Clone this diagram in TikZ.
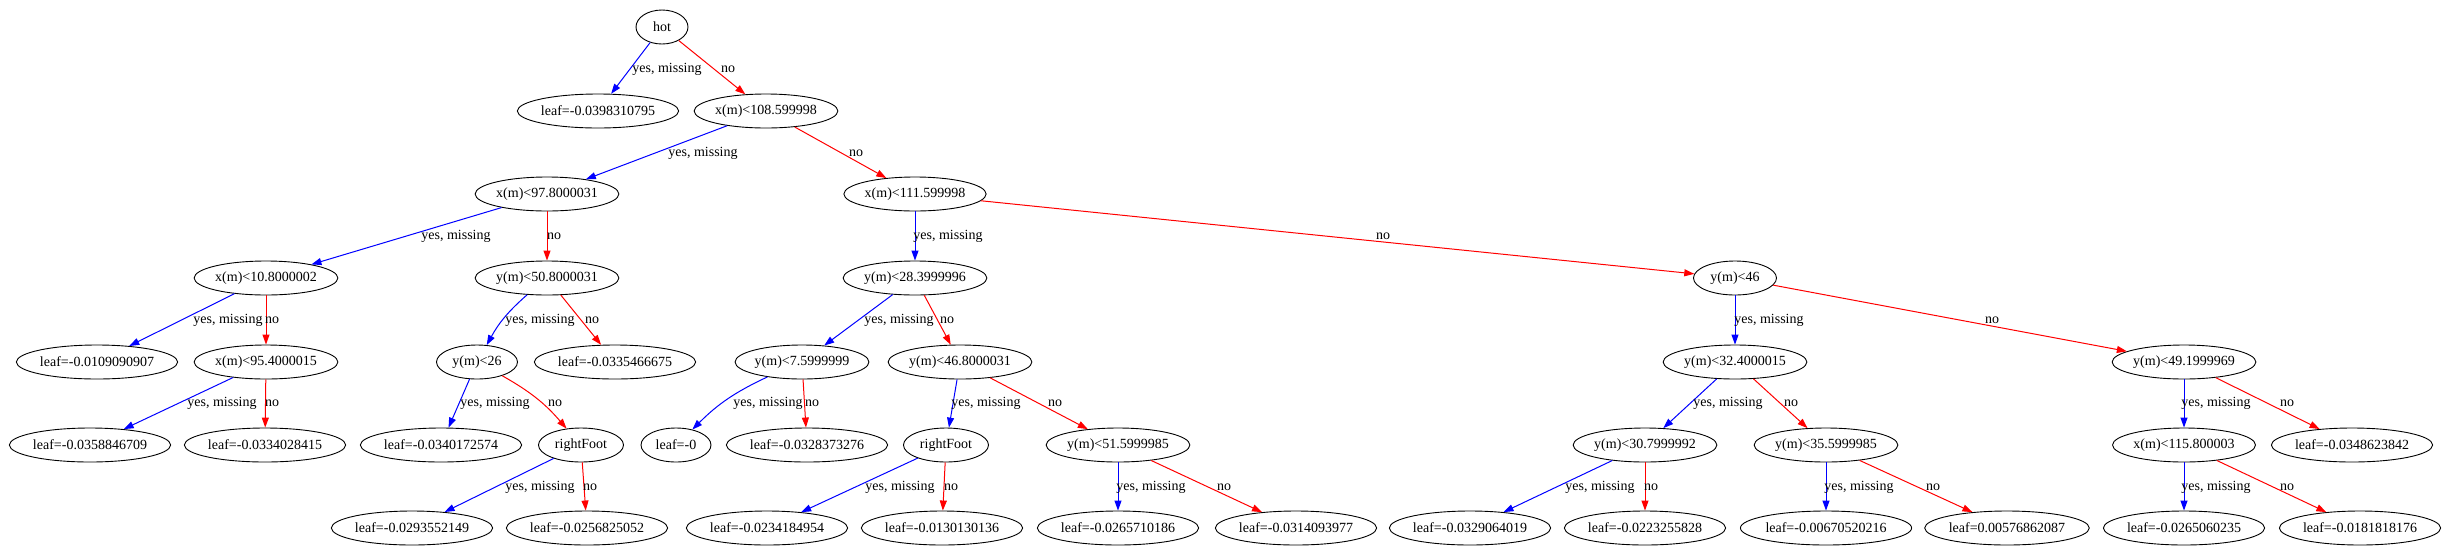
\documentclass[tikz,border=0pt]{standalone}
\usepackage{fontspec}
\setmainfont{Liberation Serif}
\usetikzlibrary{arrows.meta,shapes.geometric}
\begin{document}
\begin{tikzpicture}[x=1pt,y=-1pt,
  every node/.style={font=\fontsize{14}{16}\selectfont},
  tnode/.style={draw=black,line width=0.9pt,ellipse,inner xsep=0pt,inner ysep=0pt,minimum height=34pt},
  yesedge/.style={draw={rgb,255:red,0;green,0;blue,255},line width=1pt,-{Triangle[length=10pt,width=7pt]}},
  noedge/.style={draw={rgb,255:red,255;green,0;blue,0},line width=1pt,-{Triangle[length=10pt,width=7pt]}},
  lbl/.style={inner sep=0pt}]
\useasboundingbox (0,0) rectangle (2450,558);
% nodes
\node[tnode,minimum width=52pt] (n0) at (662,27) {hot};
\node[tnode] (n1) at (598,111) {leaf=-0.0398310795};
\node[tnode] (n2) at (766,111) {x(m)<108.599998};
\node[tnode] (n3) at (547,194) {x(m)<97.8000031};
\node[tnode] (n4) at (915,194) {x(m)<111.599998};
\node[tnode] (n5) at (266,278) {x(m)<10.8000002};
\node[tnode] (n6) at (547,278) {y(m)<50.8000031};
\node[tnode] (n7) at (915,278) {y(m)<28.3999996};
\node[tnode,minimum width=83pt] (n8) at (1735,278) {y(m)<46};
\node[tnode] (n9) at (97,362) {leaf=-0.0109090907};
\node[tnode] (n10) at (266,362) {x(m)<95.4000015};
\node[tnode,minimum width=81pt] (n11) at (477,362) {y(m)<26};
\node[tnode] (n12) at (615,362) {leaf=-0.0335466675};
\node[tnode] (n13) at (802,362) {y(m)<7.5999999};
\node[tnode] (n14) at (960,362) {y(m)<46.8000031};
\node[tnode] (n15) at (1735,362) {y(m)<32.4000015};
\node[tnode] (n16) at (2184,362) {y(m)<49.1999969};
\node[tnode] (n17) at (90,445) {leaf=-0.0358846709};
\node[tnode] (n18) at (265,445) {leaf=-0.0334028415};
\node[tnode] (n19) at (441,445) {leaf=-0.0340172574};
\node[tnode,minimum width=85pt] (n20) at (581,445) {rightFoot};
\node[tnode,minimum width=70pt] (n21) at (676,445) {leaf=-0};
\node[tnode] (n22) at (807,445) {leaf=-0.0328373276};
\node[tnode,minimum width=85pt] (n23) at (946,445) {rightFoot};
\node[tnode] (n24) at (1118,445) {y(m)<51.5999985};
\node[tnode] (n25) at (1645,445) {y(m)<30.7999992};
\node[tnode] (n26) at (1826,445) {y(m)<35.5999985};
\node[tnode] (n27) at (2184,445) {x(m)<115.800003};
\node[tnode] (n28) at (2352,445) {leaf=-0.0348623842};
\node[tnode] (n29) at (412,528) {leaf=-0.0293552149};
\node[tnode] (n30) at (587,528) {leaf=-0.0256825052};
\node[tnode] (n31) at (767,528) {leaf=-0.0234184954};
\node[tnode] (n32) at (942,528) {leaf=-0.0130130136};
\node[tnode] (n33) at (1118,528) {leaf=-0.0265710186};
\node[tnode] (n34) at (1296,528) {leaf=-0.0314093977};
\node[tnode] (n35) at (1470,528) {leaf=-0.0329064019};
\node[tnode] (n36) at (1645,528) {leaf=-0.0223255828};
\node[tnode] (n37) at (1826,528) {leaf=-0.00670520216};
\node[tnode] (n38) at (2007,528) {leaf=0.00576862087};
\node[tnode] (n39) at (2184,528) {leaf=-0.0265060235};
\node[tnode] (n40) at (2360,528) {leaf=-0.0181818176};
% edges
\draw[yesedge] (n0) -- (n1);
\draw[noedge] (n0) -- (n2);
\draw[yesedge] (n2) -- (n3);
\draw[noedge] (n2) -- (n4);
\draw[yesedge] (n3) -- (n5);
\draw[noedge] (n3) -- (n6);
\draw[yesedge] (n4) -- (n7);
\draw[noedge] (n4) -- (n8);
\draw[yesedge] (n5) -- (n9);
\draw[noedge] (n5) -- (n10);
\draw[yesedge] (n6) to[bend right=10] (n11);
\draw[noedge] (n6) -- (n12);
\draw[yesedge] (n7) -- (n13);
\draw[noedge] (n7) -- (n14);
\draw[yesedge] (n8) -- (n15);
\draw[noedge] (n8) -- (n16);
\draw[yesedge] (n10) -- (n17);
\draw[noedge] (n10) -- (n18);
\draw[yesedge] (n11) -- (n19);
\draw[noedge] (n11) to[bend left=10] (n20);
\draw[yesedge] (n13) to[bend right=10] (n21);
\draw[noedge] (n13) -- (n22);
\draw[yesedge] (n14) -- (n23);
\draw[noedge] (n14) -- (n24);
\draw[yesedge] (n15) -- (n25);
\draw[noedge] (n15) -- (n26);
\draw[yesedge] (n16) -- (n27);
\draw[noedge] (n16) -- (n28);
\draw[yesedge] (n20) -- (n29);
\draw[noedge] (n20) -- (n30);
\draw[yesedge] (n23) -- (n31);
\draw[noedge] (n23) -- (n32);
\draw[yesedge] (n24) -- (n33);
\draw[noedge] (n24) -- (n34);
\draw[yesedge] (n25) -- (n35);
\draw[noedge] (n25) -- (n36);
\draw[yesedge] (n26) -- (n37);
\draw[noedge] (n26) -- (n38);
\draw[yesedge] (n27) -- (n39);
\draw[noedge] (n27) -- (n40);
% edge labels
\node[lbl] (e1) at (667,69) {yes, missing};
\node[lbl] (e2) at (728,69) {no};
\node[lbl] (e3) at (703,153) {yes, missing};
\node[lbl] (e4) at (856,153) {no};
\node[lbl] (e5) at (456,236) {yes, missing};
\node[lbl] (e6) at (554,236) {no};
\node[lbl] (e7) at (948,236) {yes, missing};
\node[lbl] (e8) at (1383,236) {no};
\node[lbl] (e9) at (228,320) {yes, missing};
\node[lbl] (e10) at (272,320) {no};
\node[lbl] (e11) at (540,320) {yes, missing};
\node[lbl] (e12) at (592,320) {no};
\node[lbl] (e13) at (899,320) {yes, missing};
\node[lbl] (e14) at (947,320) {no};
\node[lbl] (e15) at (1769,320) {yes, missing};
\node[lbl] (e16) at (1992,320) {no};
\node[lbl] (e17) at (222,403) {yes, missing};
\node[lbl] (e18) at (272,403) {no};
\node[lbl] (e19) at (495,403) {yes, missing};
\node[lbl] (e20) at (555,403) {no};
\node[lbl] (e21) at (768,403) {yes, missing};
\node[lbl] (e22) at (812,403) {no};
\node[lbl] (e23) at (986,403) {yes, missing};
\node[lbl] (e24) at (1055,403) {no};
\node[lbl] (e25) at (1728,403) {yes, missing};
\node[lbl] (e26) at (1791,403) {no};
\node[lbl] (e27) at (2216,403) {yes, missing};
\node[lbl] (e28) at (2287,403) {no};
\node[lbl] (e29) at (540,487) {yes, missing};
\node[lbl] (e30) at (590,487) {no};
\node[lbl] (e31) at (900,487) {yes, missing};
\node[lbl] (e32) at (951,487) {no};
\node[lbl] (e33) at (1151,487) {yes, missing};
\node[lbl] (e34) at (1224,487) {no};
\node[lbl] (e35) at (1600,487) {yes, missing};
\node[lbl] (e36) at (1651,487) {no};
\node[lbl] (e37) at (1859,487) {yes, missing};
\node[lbl] (e38) at (1933,487) {no};
\node[lbl] (e39) at (2216,487) {yes, missing};
\node[lbl] (e40) at (2287,487) {no};
\end{tikzpicture}
\end{document}
